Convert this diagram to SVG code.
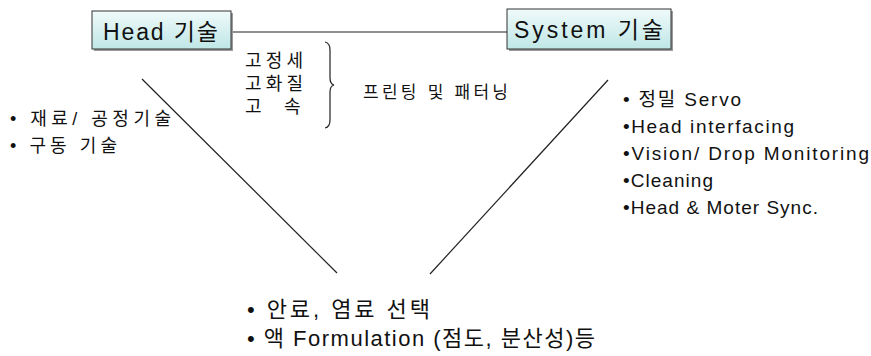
<svg xmlns="http://www.w3.org/2000/svg" width="871" height="356" viewBox="0 0 871 356">
<defs>
<linearGradient id="boxfill" x1="0" y1="0" x2="0" y2="1">
<stop offset="0" stop-color="#f0fafa"/>
<stop offset="1" stop-color="#bfe6e6"/>
</linearGradient>
</defs>
<style>
text{font-family:"Liberation Sans","Noto Sans CJK KR",sans-serif;fill:#111}
.box{fill:url(#boxfill);stroke:#333;stroke-width:1}
.shadow{fill:#9a9a9a}
.ln{stroke:#222;stroke-width:1.2;fill:none}
.t23{font-size:23px}
.t17{font-size:17px}
.t18{font-size:18px}
.t19{font-size:19px}
.t22{font-size:22px}
</style>
<rect width="871" height="356" fill="#fff"/>
<g id="connectors">
<line class="ln" x1="232" y1="32" x2="507" y2="32"/>
<line class="ln" x1="142" y1="79" x2="337" y2="273"/>
<line class="ln" x1="608" y1="80" x2="430" y2="274"/>
<path class="ln" d="M325,42 Q330,43 330,50 L330,78 Q330,84 334,85 Q330,86 330,92 L330,120 Q330,127 325,128"/>
</g>
<g id="head">
<rect class="shadow" x="94" y="13" width="139" height="38"/>
<rect class="box" x="92" y="11" width="139" height="38"/>
<text class="t23" x="103" y="40" textLength="115" lengthAdjust="spacing">Head 기술</text>
</g>
<g id="system">
<rect class="shadow" x="509" y="11" width="164" height="40"/>
<rect class="box" x="507" y="9" width="164" height="40"/>
<text class="t23" x="514" y="38" textLength="149" lengthAdjust="spacing">System 기술</text>
</g>
<g id="quality">
<text class="t18" x="245" y="67" textLength="58" lengthAdjust="spacing">고정세</text>
<text class="t18" x="245" y="90" textLength="58" lengthAdjust="spacing">고화질</text>
<text class="t18" y="113"><tspan x="245">고</tspan><tspan x="284">속</tspan></text>
<text class="t17" x="363" y="98" textLength="145" lengthAdjust="spacing">프린팅 및 패터닝</text>
</g>
<g id="head-items">
<text class="t18" x="10" y="125" textLength="161" lengthAdjust="spacing">• 재료/ 공정기술</text>
<text class="t18" x="10" y="152" textLength="107" lengthAdjust="spacing">• 구동 기술</text>
</g>
<g id="system-items">
<text class="t19" x="623" y="106" textLength="118" lengthAdjust="spacing">• 정밀 Servo</text>
<text class="t19" x="623" y="133" textLength="171" lengthAdjust="spacing">•Head interfacing</text>
<text class="t19" x="623" y="160" textLength="246" lengthAdjust="spacing">•Vision/ Drop Monitoring</text>
<text class="t19" x="623" y="187" textLength="90" lengthAdjust="spacing">•Cleaning</text>
<text class="t19" x="623" y="214" textLength="195" lengthAdjust="spacing">•Head &amp; Moter Sync.</text>
</g>
<g id="ink-items">
<text class="t22" x="247" y="317" textLength="183" lengthAdjust="spacing">• 안료, 염료 선택</text>
<text class="t22" x="247" y="346" textLength="348" lengthAdjust="spacing">• 액 Formulation (점도, 분산성)등</text>
</g>
</svg>
